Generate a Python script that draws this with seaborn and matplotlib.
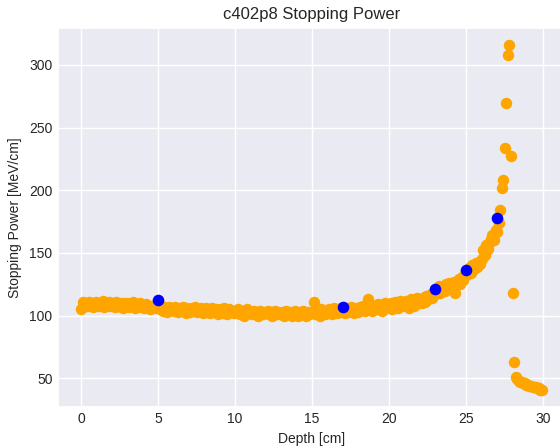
import matplotlib
matplotlib.use("Agg")
import matplotlib.pyplot as plt
import seaborn as sns
import pandas as pd

# Measured stopping power (orange), depth in cm
depth = [
    0.0, 0.1, 0.2, 0.3, 0.4, 0.5, 0.6, 0.7, 0.8, 0.9,
    1.0, 1.1, 1.2, 1.3, 1.4, 1.5, 1.6, 1.7, 1.8, 1.9,
    2.0, 2.1, 2.2, 2.3, 2.4, 2.5, 2.6, 2.7, 2.8, 2.9,
    3.0, 3.1, 3.2, 3.3, 3.4, 3.5, 3.6, 3.7, 3.8, 3.9,
    4.0, 4.1, 4.2, 4.3, 4.4, 4.5, 4.6, 4.7, 4.8, 4.9,
    5.0, 5.1, 5.2, 5.3, 5.4, 5.5, 5.6, 5.7, 5.8, 5.9,
    6.0, 6.1, 6.2, 6.3, 6.4, 6.5, 6.6, 6.7, 6.8, 6.9,
    7.0, 7.1, 7.2, 7.3, 7.4, 7.5, 7.6, 7.7, 7.8, 7.9,
    8.0, 8.1, 8.2, 8.3, 8.4, 8.5, 8.6, 8.7, 8.8, 8.9,
    9.0, 9.1, 9.2, 9.3, 9.4, 9.5, 9.6, 9.7, 9.8, 9.9,
    10.0, 10.1, 10.2, 10.3, 10.4, 10.5, 10.6, 10.7, 10.8, 10.9,
    11.0, 11.1, 11.2, 11.3, 11.4, 11.5, 11.6, 11.7, 11.8, 11.9,
    12.0, 12.1, 12.2, 12.3, 12.4, 12.5, 12.6, 12.7, 12.8, 12.9,
    13.0, 13.1, 13.2, 13.3, 13.4, 13.5, 13.6, 13.7, 13.8, 13.9,
    14.0, 14.1, 14.2, 14.3, 14.4, 14.5, 14.6, 14.7, 14.8, 14.9,
    15.0, 15.1, 15.2, 15.3, 15.4, 15.5, 15.6, 15.7, 15.8, 15.9,
    16.0, 16.1, 16.2, 16.3, 16.4, 16.5, 16.6, 16.7, 16.8, 16.9,
    17.0, 17.1, 17.2, 17.3, 17.4, 17.5, 17.6, 17.7, 17.8, 17.9,
    18.0, 18.1, 18.2, 18.3, 18.4, 18.5, 18.6, 18.7, 18.8, 18.9,
    19.0, 19.1, 19.2, 19.3, 19.4, 19.5, 19.6, 19.7, 19.8, 19.9,
    20.0, 20.1, 20.2, 20.3, 20.4, 20.5, 20.6, 20.7, 20.8, 20.9,
    21.0, 21.1, 21.2, 21.3, 21.4, 21.5, 21.6, 21.7, 21.8, 21.9,
    22.0, 22.1, 22.2, 22.3, 22.4, 22.5, 22.6, 22.7, 22.8, 22.9,
    23.0, 23.1, 23.2, 23.3, 23.4, 23.5, 23.6, 23.7, 23.8, 23.9,
    24.0, 24.1, 24.2, 24.3, 24.4, 24.5, 24.6, 24.7, 24.8, 24.9,
    25.0, 25.1, 25.2, 25.3, 25.4, 25.5, 25.6, 25.7, 25.8, 25.9,
    26.0, 26.1, 26.2, 26.3, 26.4, 26.5, 26.6, 26.7, 26.8, 26.9,
    27.0, 27.1, 27.2, 27.3, 27.4, 27.5, 27.6, 27.7, 27.8, 27.9,
    28.0, 28.1, 28.2, 28.3, 28.4, 28.5, 28.6, 28.7, 28.8, 28.9,
    29.0, 29.1, 29.2, 29.3, 29.4, 29.5, 29.6, 29.7, 29.8, 29.9,
]
stopping_power = [
    105, 111, 109, 110, 108, 111, 109, 110, 107, 110,
    111, 108, 110, 109, 112, 107, 110, 109, 111, 108,
    109, 110, 107, 111, 108, 110, 109, 106, 110, 108,
    110, 107, 109, 108, 111, 106, 109, 108, 110, 107,
    108, 106, 109, 107, 108, 105, 108, 107, 106, 108,
    107, 105, 108, 104, 107, 106, 103, 107, 105, 106,
    104, 107, 105, 103, 106, 104, 107, 105, 102, 106,
    105, 103, 106, 104, 107, 103, 105, 104, 106, 102,
    104, 106, 103, 105, 102, 106, 104, 103, 105, 101,
    103, 105, 102, 106, 104, 101, 105, 103, 104, 102,
    104, 102, 105, 101, 103, 104, 100, 103, 105, 102,
    103, 101, 104, 102, 103, 100, 104, 102, 101, 103,
    102, 104, 101, 103, 100, 102, 104, 101, 103, 102,
    101, 103, 100, 104, 102, 101, 103, 100, 102, 104,
    102, 100, 103, 101, 104, 102, 100, 103, 101, 102,
    103, 111, 101, 104, 102, 100, 105, 103, 101, 104,
    102, 105, 103, 101, 106, 104, 102, 105, 103, 106,
    104, 102, 106, 103, 105, 107, 104, 102, 106, 105,
    103, 107, 105, 108, 104, 106, 113, 105, 107, 104,
    106, 108, 105, 109, 107, 104, 108, 110, 106, 108,
    107, 110, 105, 109, 111, 107, 106, 112, 108, 110,
    109, 112, 108, 106, 113, 110, 108, 111, 114, 110,
    112, 110, 114, 111, 116, 113, 115, 117, 114, 119,
    117, 120, 124, 118, 121, 123, 120, 125, 122, 126,
    124, 121, 127, 118, 126, 129, 125, 131, 128, 133,
    132, 136, 138, 134, 140, 137, 142, 139, 143, 141,
    145, 152, 148, 156, 153, 158, 161, 164, 160, 168,
    167, 174, 184, 202, 208, 234, 270, 308, 316, 227,
    118, 63, 51, 49, 48, 47, 47, 46, 46, 45,
    45, 44, 44, 43, 43, 43, 42, 42, 41, 41,
]

# Highlighted reference points (blue)
ref_depth = [5, 17, 23, 25, 27]
ref_power = [112.5, 107, 121.6, 136.3, 177.6]

sns.set_theme(style="darkgrid")
plt.rcParams["font.family"] = ["Liberation Sans", "DejaVu Sans"]

df = pd.DataFrame({"Depth": depth, "Power": stopping_power})
df_ref = pd.DataFrame({"Depth": ref_depth, "Power": ref_power})

fig = plt.figure(figsize=(5.6, 4.46), dpi=100)
ax = fig.add_axes([0.1036, 0.088, 0.905, 0.85])

sns.scatterplot(data=df, x="Depth", y="Power", color="orange", s=68,
                linewidth=0, ax=ax)
sns.scatterplot(data=df_ref, x="Depth", y="Power", color="blue", s=70,
                linewidth=0, ax=ax)

ax.set_title("c402p8 Stopping Power", fontsize=12, color=".15", pad=6)
ax.tick_params(axis="both", which="major", labelsize=10, colors=".15",
               length=0, pad=4)
ax.set_xlabel("Depth [cm]", fontsize=10, color=".15", labelpad=4)
ax.set_ylabel("Stopping Power [MeV/cm]", fontsize=10, color=".15", labelpad=5)
ax.set_yticks([50, 100, 150, 200, 250, 300])

fig.savefig("out.png", dpi=100)
